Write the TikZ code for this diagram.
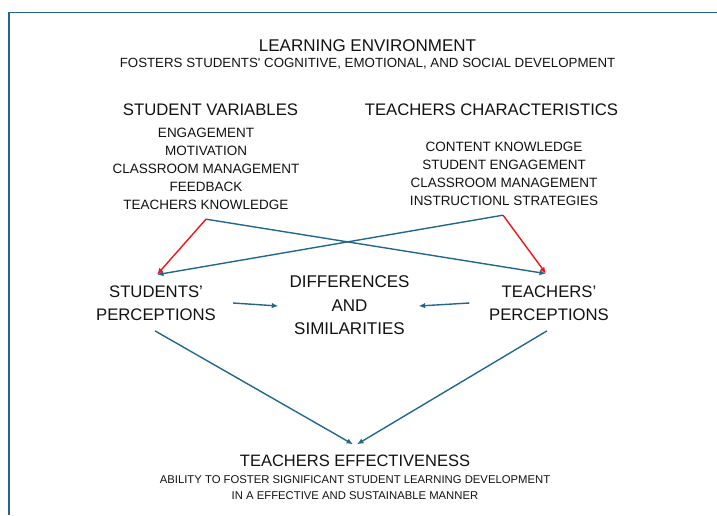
\documentclass[tikz,border=0pt]{standalone}
\usepackage{fontspec}
\setmainfont{Liberation Sans}
\usetikzlibrary{arrows.meta}

\definecolor{linkblue}{RGB}{33,104,140}
\definecolor{linkred}{RGB}{245,20,20}
\definecolor{inkgray}{RGB}{18,18,18}
\newcommand{\fsz}[2]{\fontsize{#1}{#2}\selectfont}
% straight apostrophe, set as a glyph so the TeX quote mapping leaves it alone
\newcommand{\straightquote}{\XeTeXglyph\XeTeXcharglyph"27\relax}

\begin{document}
\begin{tikzpicture}[x=1pt,y=-1pt,
  txt/.style={inner sep=0pt, text=inkgray, align=center},
  blk/.style={txt, anchor=base},
  link/.style={draw=linkblue, line width=1.4pt, -{Latex[length=6.5pt,width=5.5pt]}},
  redlink/.style={link, draw=linkred},
  frame/.style={draw=linkblue, line width=1.6pt}]

\useasboundingbox (0,0) rectangle (717,515);

% outer frame
\draw[frame] (9,515) -- (9,12.5) -- (717,12.5);

% header
\node[blk, font=\fsz{17}{20}] (title) at (367.5,51.5) {LEARNING ENVIRONMENT};
\node[blk, font=\fsz{13.3}{16}] (subtitle) at (367.5,67)
  {FOSTERS STUDENTS\straightquote{} COGNITIVE, EMOTIONAL, AND SOCIAL DEVELOPMENT};

% the two groups of variables
\node[blk, font=\fsz{16.7}{20}] (svhead) at (210.5,115) {STUDENT VARIABLES};
\node[blk, font=\fsz{16.7}{20}] (tchead) at (491.5,115) {TEACHERS CHARACTERISTICS};
\node[txt, font=\fsz{13.5}{18}] (svlist) at (206,169.2)
  {ENGAGEMENT\\MOTIVATION\\CLASSROOM MANAGEMENT\\FEEDBACK\\TEACHERS KNOWLEDGE};
\node[txt, font=\fsz{13.5}{18}] (tclist) at (504,174.2)
  {CONTENT KNOWLEDGE\\STUDENT ENGAGEMENT\\CLASSROOM MANAGEMENT\\INSTRUCTIONL STRATEGIES};

% perceptions and comparison
\node[txt, font=\fsz{16.7}{22.5}] (sp) at (156,303) {STUDENTS’\\PERCEPTIONS};
\node[txt, font=\fsz{17}{23.5}] (diff) at (349.5,305.5) {DIFFERENCES\\AND\\SIMILARITIES};
\node[txt, font=\fsz{16.7}{22.5}] (tp) at (549,303) {TEACHERS’\\PERCEPTIONS};

% outcome
\node[blk, font=\fsz{16.5}{20}] (te) at (355,466) {TEACHERS EFFECTIVENESS};
\node[txt, font=\fsz{11.3}{16}] (tedesc) at (355,488)
  {ABILITY TO FOSTER SIGNIFICANT STUDENT LEARNING DEVELOPMENT\\IN A EFFECTIVE AND SUSTAINABLE MANNER};

% connector end points
\coordinate (svout) at ([yshift=-9pt]svlist.south);
\coordinate (tcout) at ([xshift=-1pt,yshift=-9pt]tclist.south);
\coordinate (spin) at ([xshift=1pt,yshift=11pt]sp.north);
\coordinate (tpin) at ([xshift=-3pt,yshift=12pt]tp.north);

% crossing influences
\draw[link] (svout) -- (tpin);
\draw[link] (tcout) -- (spin);
\draw[redlink] (svout) -- (spin);
\draw[redlink] (tcout) -- (tpin);

% towards the comparison
\draw[link] ([xshift=17pt]sp.east) -- ([xshift=-11pt,yshift=-0.5pt]diff.west);
\draw[link] ([xshift=-19.5pt]tp.west) -- ([xshift=9pt,yshift=-0.5pt]diff.east);

% towards effectiveness
\draw[link] ([xshift=-1pt,yshift=-10.5pt]sp.south) -- ([xshift=-2pt,yshift=10pt]te.north);
\draw[link] ([xshift=-2pt,yshift=-10.5pt]tp.south) -- ([xshift=2pt,yshift=10pt]te.north);

\end{tikzpicture}
\end{document}
